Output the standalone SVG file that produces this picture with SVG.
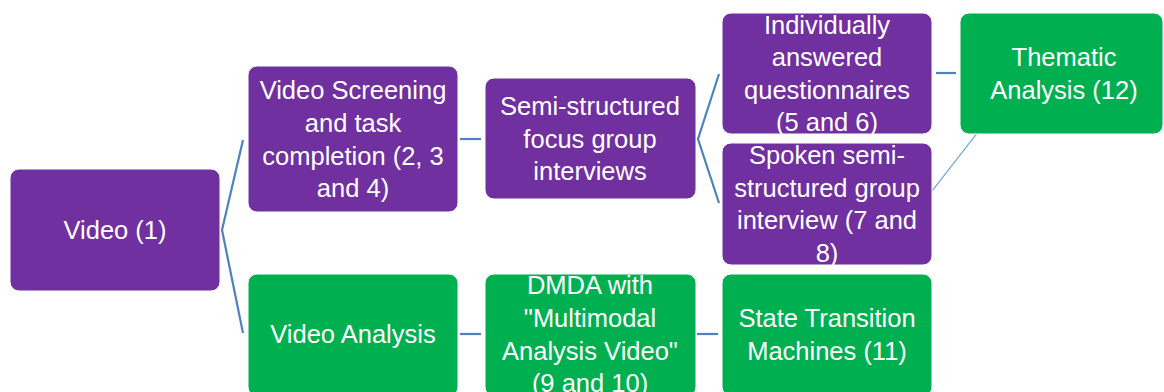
<svg xmlns="http://www.w3.org/2000/svg" width="1164" height="392" viewBox="0 0 1164 392">
<style>
.p{fill:#7030A0;stroke:#ffffff;stroke-width:1}
.g{fill:#00B050;stroke:#ffffff;stroke-width:1}
text{font-family:"Liberation Sans",Arial,sans-serif;font-size:25.5px;fill:#ffffff;text-anchor:middle}
.c{fill:none;stroke:#4F81BD;stroke-width:2.2}
.t{fill:none;stroke:#5B9BD5;stroke-width:1.2}
</style>
<rect width="1164" height="392" fill="#ffffff"/>
<g id="connectors">
<polyline class="c" points="243,140 222,230 243,333"/>
<line class="c" x1="460" y1="139" x2="481" y2="139"/>
<polyline class="c" points="719,74 698,139 719,203"/>
<line class="c" x1="936" y1="73" x2="956" y2="73"/>
<line class="c" x1="460" y1="334" x2="481" y2="334"/>
<line class="c" x1="697" y1="334" x2="718" y2="334"/>
<line class="t" x1="925" y1="200" x2="992" y2="114"/>
</g>
<g id="video1">
<rect class="p" x="10" y="169" width="210" height="122" rx="9"/>
<text x="115" y="239">Video (1)</text>
</g>
<g id="screening">
<rect class="p" x="248" y="66" width="210" height="146" rx="9"/>
<text x="353" y="99">Video Screening</text>
<text x="353" y="132">and task</text>
<text x="353" y="165">completion (2, 3</text>
<text x="353" y="197">and 4)</text>
</g>
<g id="focus">
<rect class="p" x="485" y="78" width="211" height="121" rx="9"/>
<text x="590" y="115">Semi-structured</text>
<text x="590" y="148">focus group</text>
<text x="590" y="180">interviews</text>
</g>
<g id="questionnaires">
<rect class="p" x="722" y="13" width="210" height="121" rx="9"/>
<text x="827" y="34">Individually</text>
<text x="827" y="66">answered</text>
<text x="827" y="99">questionnaires</text>
<text x="827" y="131">(5 and 6)</text>
</g>
<g id="spoken">
<rect class="p" x="722" y="143" width="210" height="122" rx="9"/>
<text x="827" y="164">Spoken semi-</text>
<text x="827" y="197">structured group</text>
<text x="827" y="229">interview (7 and</text>
<text x="827" y="262">8)</text>
</g>
<g id="thematic">
<rect class="g" x="960" y="13" width="203" height="121" rx="9"/>
<text x="1064" y="66">Thematic</text>
<text x="1064" y="99">Analysis (12)</text>
</g>
<g id="videoanalysis">
<rect class="g" x="248" y="274" width="210" height="122" rx="9"/>
<text x="353" y="343">Video Analysis</text>
</g>
<g id="dmda">
<rect class="g" x="485" y="274" width="211" height="122" rx="9"/>
<text x="590" y="294">DMDA with</text>
<text x="590" y="327">"Multimodal</text>
<text x="590" y="360">Analysis Video"</text>
<text x="590" y="392">(9 and 10)</text>
</g>
<g id="statetransition">
<rect class="g" x="722" y="274" width="210" height="122" rx="9"/>
<text x="827" y="327">State Transition</text>
<text x="827" y="360">Machines (11)</text>
</g>
</svg>
